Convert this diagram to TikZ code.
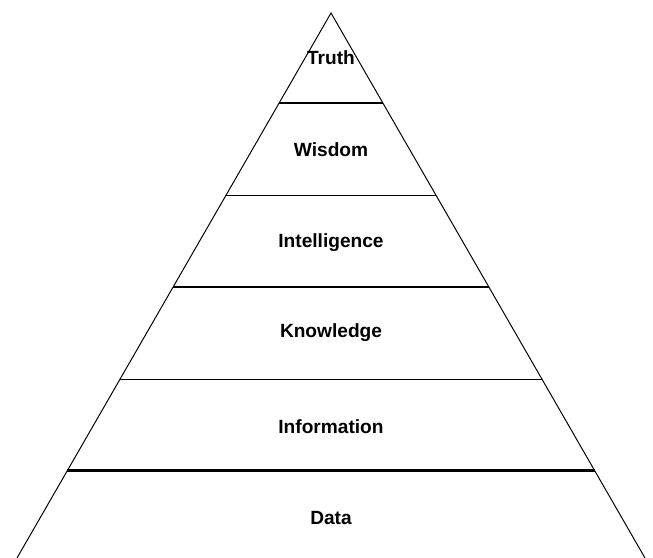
\documentclass[tikz,border=0pt]{standalone}
\usepackage{fontspec}
\setmainfont{Liberation Sans}
\usetikzlibrary{calc}

\begin{document}
\begin{tikzpicture}[x=0.025cm,y=-0.025cm]
\tikzset{tiername/.style={font=\fontsize{13.6}{15}\selectfont\bfseries}}
\useasboundingbox (0,0) rectangle (653,558);

\coordinate (apex) at (331,13);
\coordinate (bl) at (17,558);
\coordinate (br) at (645,558);

\draw [line width=.7pt] (bl) -- (apex) -- (br);

\foreach \t/\w in {0.165/1.4pt, 0.334/.7pt, 0.503/1.4pt, 0.672/.7pt, 0.840/2.1pt}
  \draw [line width=\w] ($(apex)!\t!(bl)$) -- ($(apex)!\t!(br)$);

\node[tiername] (truth) at (331,58) {Truth};
\node[tiername] (wisdom) at (331,150) {Wisdom};
\node[tiername] (intel) at (331,243) {Intelligence};
\node[tiername] (know) at (331,333) {Knowledge};
\node[tiername] (info) at (331,427) {Information};
\node[tiername] (data) at (331,518) {Data};

\end{tikzpicture}
\end{document}
